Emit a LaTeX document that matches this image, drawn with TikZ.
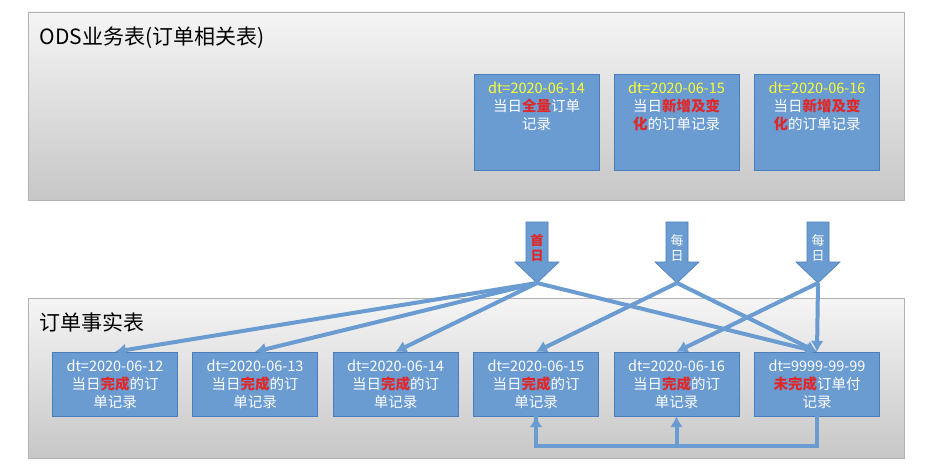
\documentclass[tikz,border=0pt]{standalone}
\usepackage{fontspec}
\setmainfont{Noto Sans CJK SC}
\usetikzlibrary{arrows.meta}
\definecolor{bx}{HTML}{6A9BD1}
\definecolor{bxd}{HTML}{4A7EBB}
\definecolor{rd}{HTML}{E02828}
\definecolor{yl}{HTML}{FFFF33}
\begin{document}
\begin{tikzpicture}[x=1pt,y=-1pt,
 panel/.style={draw=black!30,top color=black!4,bottom color=black!22},
 box/.style={draw=bxd,fill=bx,text=white,minimum width=125pt,align=center,font=\fontsize{14.5}{18}\selectfont,inner sep=1pt},
 conn/.style={draw=bx,line width=4pt,-{Latex[length=11pt,width=13pt]}},
 bigarrow/.style={fill=bx,draw=bxd,line width=0.6pt}]
\useasboundingbox (0,0) rectangle (926,468);
\fill[white] (0,0) rectangle (926,468);
\path[panel] (28,12) rectangle (904,200);
\path[panel] (28,298) rectangle (904,458);
\node[anchor=west,font=\fontsize{21}{24}\selectfont] (t1) at (36,38) {ODS业务表(订单相关表)};
\node[anchor=west,font=\fontsize{21}{24}\selectfont] (t2) at (36,322) {订单事实表};
% top boxes
\node[box,minimum height=96pt] (o1) at (536.5,122) {\textcolor{yl}{dt=2020-06-14}\\当日\textcolor{rd}{\textbf{全量}}订单\\记录\\[14pt]};
\node[box,minimum height=96pt] (o2) at (676.5,122) {\textcolor{yl}{dt=2020-06-15}\\当日\textcolor{rd}{\textbf{新增及变}}\\\textcolor{rd}{\textbf{化}}的订单记录\\[14pt]};
\node[box,minimum height=96pt] (o3) at (817,122) {\textcolor{yl}{dt=2020-06-16}\\当日\textcolor{rd}{\textbf{新增及变}}\\\textcolor{rd}{\textbf{化}}的订单记录\\[14pt]};
% big arrows
\foreach \n/\x in {a1/537,a2/677,a3/818}{
 \path[bigarrow] (\x-11,222) -- (\x+11,222) -- (\x+11,262) -- (\x+22,262) -- (\x,283) -- (\x-22,262) -- (\x-11,262) -- cycle;
 \coordinate (\n) at (\x,283);
}
\node[text=rd,font=\bfseries\fontsize{13}{15}\selectfont,align=center] (l1) at (537,248) {首\\日};
\node[text=white,font=\fontsize{13}{15}\selectfont,align=center] (l2) at (677,248) {每\\日};
\node[text=white,font=\fontsize{13}{15}\selectfont,align=center] (l3) at (818,248) {每\\日};
% bottom boxes
\node[box,minimum height=64pt] (f1) at (115,384) {dt=2020-06-12\\当日\textcolor{rd}{\textbf{完成}}的订\\单记录};
\node[box,minimum height=64pt] (f2) at (255,384) {dt=2020-06-13\\当日\textcolor{rd}{\textbf{完成}}的订\\单记录};
\node[box,minimum height=64pt] (f3) at (395.5,384) {dt=2020-06-14\\当日\textcolor{rd}{\textbf{完成}}的订\\单记录};
\node[box,minimum height=64pt] (f4) at (536,384) {dt=2020-06-15\\当日\textcolor{rd}{\textbf{完成}}的订\\单记录};
\node[box,minimum height=64pt] (f5) at (676.5,384) {dt=2020-06-16\\当日\textcolor{rd}{\textbf{完成}}的订\\单记录};
\node[box,minimum height=64pt] (f6) at (817,384) {dt=9999-99-99\\\textcolor{rd}{\textbf{未完成}}订单付\\记录};
% connectors
\draw[conn] (a1) -- (f1.north);
\draw[conn] (a1) -- (f2.north);
\draw[conn] (a1) -- (f3.north);
\draw[conn] (a1) -- (f6.north);
\draw[conn] (a2) -- (f4.north);
\draw[conn] (a2) -- (f6.north);
\draw[conn] (a3) -- (f5.north);
\draw[conn] (a3) -- (f6.north);
\coordinate (b) at (817,446);
\draw[conn,-] (f6.south) -- (b) -| (f4.south);
\draw[conn] (f4.south|-b) -- (f4.south);
\draw[conn] (f5.south|-b) -- (f5.south);
\end{tikzpicture}
\end{document}
